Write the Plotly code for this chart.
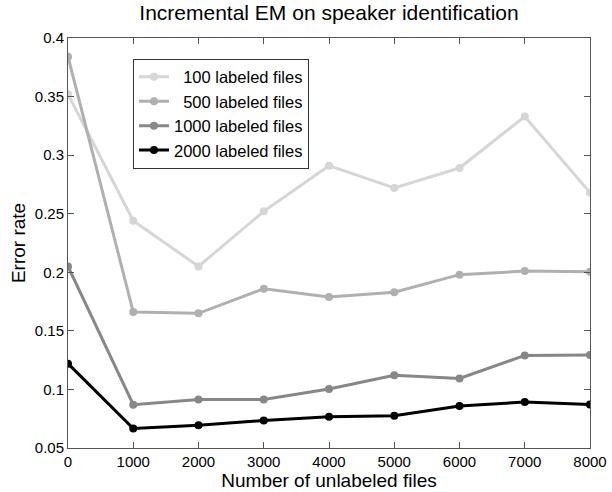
import plotly.graph_objects as go

x_unlabeled = [0, 1000, 2000, 3000, 4000, 5000, 6000, 7000, 8000]
err_100 = [0.352, 0.244, 0.205, 0.252, 0.291, 0.272, 0.289, 0.333, 0.268]
err_500 = [0.384, 0.166, 0.165, 0.186, 0.179, 0.183, 0.198, 0.201, 0.2005]
err_1000 = [0.205, 0.087, 0.0915, 0.0915, 0.1003, 0.112, 0.1094, 0.129, 0.1293]
err_2000 = [0.122, 0.0667, 0.0695, 0.0735, 0.0767, 0.0776, 0.0858, 0.0892, 0.0872]

names = ["\u00a0\u00a0100 labeled files", "\u00a0\u00a0500 labeled files",
         "1000 labeled files", "2000 labeled files"]
series = [err_100, err_500, err_1000, err_2000]
colors = ["#d6d6d6", "#b0b0b0", "#878787", "#000000"]

fig = go.Figure()
for name, ys, c in zip(names, series, colors):
    fig.add_trace(go.Scatter(x=x_unlabeled, y=ys, name=name, mode="lines+markers",
                             line=dict(color=c, width=3),
                             marker=dict(color=c, size=8)))

axis_common = dict(showline=True, linecolor="#555555", linewidth=1, mirror="ticks",
                   ticks="inside", ticklen=6, tickcolor="#555555", showgrid=False,
                   zeroline=False, tickfont=dict(size=15, color="black"),
                   ticklabeloverflow="allow", automargin=False)

fig.update_layout(
    width=612, height=492,
    margin=dict(l=68, r=22, t=38, b=44),
    paper_bgcolor="white", plot_bgcolor="white",
    font=dict(family="Liberation Sans, Arial, sans-serif", color="black"),
    title=dict(text="Incremental EM on speaker identification", x=0.5, xref="paper",
               xanchor="center", y=0.99, yanchor="top", font=dict(size=21)),
    xaxis=dict(range=[0, 8000], tickvals=x_unlabeled,
               title=dict(text="Number of unlabeled files", font=dict(size=19), standoff=1),
               **axis_common),
    yaxis=dict(range=[0.05, 0.4], dtick=0.05, tick0=0.05,
               title=dict(text="Error rate", font=dict(size=19), standoff=4),
               **axis_common),
    legend=dict(x=0.1245, y=0.95, xanchor="left", yanchor="top",
                bordercolor="#333333", borderwidth=1, bgcolor="white",
                font=dict(size=16.5), tracegroupgap=0, itemwidth=30),
    showlegend=True,
)

fig.write_html("out.html")
